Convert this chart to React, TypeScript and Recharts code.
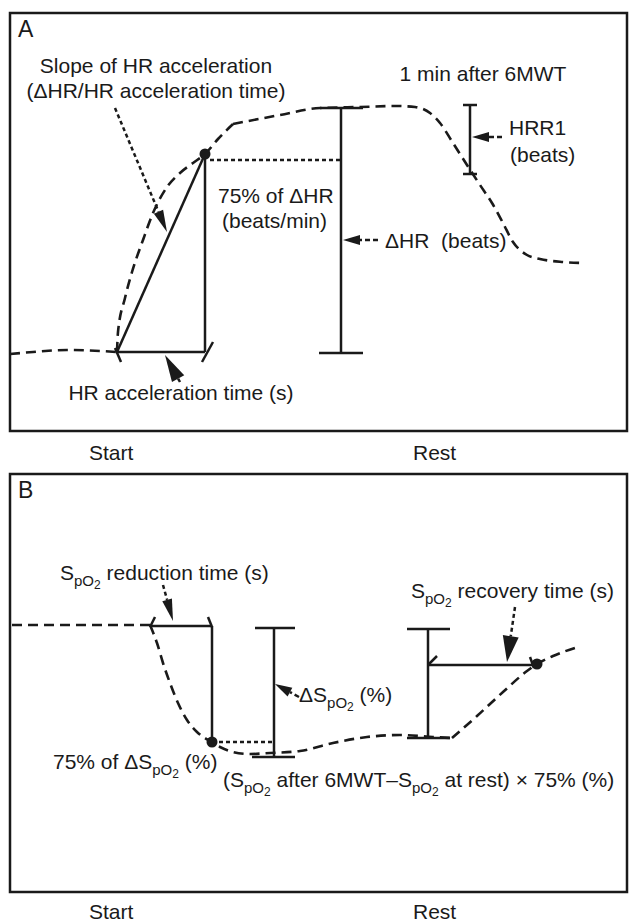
import {
  ComposedChart,
  Line,
  ReferenceArea,
  ReferenceDot,
  ReferenceLine,
  Scatter,
  XAxis,
  YAxis,
} from 'recharts';

// Schematic of the HR and SpO2 response to the 6MWT.
// Units are diagram units (x = time, y = level drawn downward).

type Pt = { x: number; y: number };
type Seg = [Pt, Pt];
type Part = string | [string, number];
type TextItem = { x: number; y: number; parts: Part[]; anchor?: 'start' | 'middle'; big?: boolean };
type ArrowItem = { from: Pt; to: Pt; kind: 'dot' | 'big' | 'small' | 'head' };

const INK = '#1a1a1a';
const FONT = '"Liberation Sans", Arial, Helvetica, sans-serif';
const W = 629;
const H = 924;
const SPLIT = 470;

// ---- Panel A: heart rate ----
const hrBaseline: Pt[] = [
  { x: 10, y: 354 }, { x: 33, y: 352 }, { x: 67, y: 350 }, { x: 100, y: 351 }, { x: 117, y: 352 },
];
const hrRise: Pt[] = [
  { x: 117, y: 352 }, { x: 118, y: 332 }, { x: 125, y: 298 }, { x: 132, y: 272 }, { x: 143, y: 240 },
  { x: 153, y: 213 }, { x: 167, y: 187 }, { x: 180, y: 173 }, { x: 193, y: 163 }, { x: 205, y: 154 },
  { x: 218, y: 139 }, { x: 233, y: 124 },
];
const hrPeakRecovery: Pt[] = [
  { x: 233, y: 124 }, { x: 280, y: 115 }, { x: 320, y: 108 }, { x: 360, y: 107 }, { x: 397, y: 106 },
  { x: 415, y: 107 }, { x: 430, y: 113 }, { x: 440, y: 123 }, { x: 453, y: 143 }, { x: 467, y: 165 },
  { x: 480, y: 185 }, { x: 492, y: 203 }, { x: 503, y: 223 }, { x: 513, y: 242 }, { x: 527, y: 255 },
  { x: 540, y: 259 }, { x: 563, y: 262 }, { x: 582, y: 263 },
];
const hrSolid: Seg[] = [
  [{ x: 117, y: 352 }, { x: 205, y: 154 }],
  [{ x: 205, y: 154 }, { x: 205, y: 352 }],
  [{ x: 117, y: 352 }, { x: 205, y: 352 }],
  [{ x: 115, y: 348 }, { x: 121, y: 362 }],
  [{ x: 213, y: 342 }, { x: 202, y: 362 }],
  [{ x: 341, y: 108 }, { x: 341, y: 353 }],
  [{ x: 320, y: 108 }, { x: 363, y: 108 }],
  [{ x: 319, y: 353 }, { x: 363, y: 353 }],
  [{ x: 470, y: 105 }, { x: 470, y: 174 }],
  [{ x: 463, y: 105 }, { x: 477, y: 105 }],
  [{ x: 463, y: 174 }, { x: 477, y: 174 }],
];
const hrDotted: Seg[] = [[{ x: 210, y: 160 }, { x: 340, y: 160 }]];
const hrDots: Pt[] = [{ x: 205, y: 154 }];
const hrArrows: ArrowItem[] = [
  { from: { x: 115, y: 108 }, to: { x: 167, y: 232 }, kind: 'dot' },
  { from: { x: 502, y: 137 }, to: { x: 472, y: 137 }, kind: 'small' },
  { from: { x: 378, y: 240 }, to: { x: 343, y: 240 }, kind: 'small' },
  { from: { x: 180, y: 382 }, to: { x: 165, y: 355 }, kind: 'head' },
];
const hrTexts: TextItem[] = [
  { x: 18, y: 37, parts: ['A'], big: true },
  { x: 156, y: 73, parts: ['Slope of HR acceleration'], anchor: 'middle' },
  { x: 156, y: 98, parts: ['(ΔHR/HR acceleration time)'], anchor: 'middle' },
  { x: 483, y: 81, parts: ['1 min after 6MWT'], anchor: 'middle' },
  { x: 509, y: 135, parts: ['HRR1'] },
  { x: 510, y: 162, parts: ['(beats)'] },
  { x: 218, y: 203, parts: ['75% of ΔHR'] },
  { x: 222, y: 228, parts: ['(beats/min)'] },
  { x: 385, y: 248, parts: ['ΔHR  (beats)'] },
  { x: 181, y: 400, parts: ['HR acceleration time (s)'], anchor: 'middle' },
  { x: 89, y: 460, parts: ['Start'] },
  { x: 413, y: 460, parts: ['Rest'] },
];

// ---- Panel B: SpO2 ----
const SPO2: Part[] = ['S', ['pO', 1], ['2', 2]];
const spo2Baseline: Pt[] = [{ x: 12, y: 625 }, { x: 80, y: 625 }, { x: 150, y: 625 }];
const spo2Drop: Pt[] = [
  { x: 150, y: 625 }, { x: 157, y: 643 }, { x: 163, y: 663 }, { x: 170, y: 683 }, { x: 178, y: 703 },
  { x: 187, y: 720 }, { x: 197, y: 732 }, { x: 208, y: 740 }, { x: 220, y: 747 }, { x: 233, y: 752 },
  { x: 250, y: 754 }, { x: 270, y: 753 }, { x: 300, y: 751 }, { x: 333, y: 743 }, { x: 367, y: 737 },
  { x: 400, y: 735 }, { x: 433, y: 737 }, { x: 452, y: 738 },
];
const spo2Recovery: Pt[] = [
  { x: 452, y: 738 }, { x: 477, y: 716 }, { x: 503, y: 692 }, { x: 527, y: 671 }, { x: 537, y: 664 },
  { x: 553, y: 656 }, { x: 578, y: 647 },
];
const spo2Solid: Seg[] = [
  [{ x: 150, y: 626 }, { x: 212, y: 626 }],
  [{ x: 212, y: 626 }, { x: 212, y: 742 }],
  [{ x: 155, y: 617 }, { x: 150, y: 627 }],
  [{ x: 208, y: 617 }, { x: 212, y: 627 }],
  [{ x: 274, y: 628 }, { x: 274, y: 757 }],
  [{ x: 255, y: 628 }, { x: 295, y: 628 }],
  [{ x: 252, y: 757 }, { x: 295, y: 757 }],
  [{ x: 428, y: 629 }, { x: 428, y: 738 }],
  [{ x: 407, y: 629 }, { x: 450, y: 629 }],
  [{ x: 407, y: 738 }, { x: 450, y: 738 }],
  [{ x: 428, y: 665 }, { x: 537, y: 665 }],
  [{ x: 428, y: 665 }, { x: 437, y: 656 }],
  [{ x: 530, y: 657 }, { x: 534, y: 668 }],
];
const spo2Dotted: Seg[] = [[{ x: 212, y: 742 }, { x: 273, y: 742 }]];
const spo2Dots: Pt[] = [{ x: 212, y: 742 }, { x: 537, y: 664 }];
const spo2Arrows: ArrowItem[] = [
  { from: { x: 163, y: 585 }, to: { x: 173, y: 621 }, kind: 'dot' },
  { from: { x: 299, y: 697 }, to: { x: 275, y: 684 }, kind: 'small' },
  { from: { x: 515, y: 607 }, to: { x: 507, y: 662 }, kind: 'big' },
];
const spo2Texts: TextItem[] = [
  { x: 18, y: 498, parts: ['B'], big: true },
  { x: 60, y: 580, parts: [...SPO2, ' reduction time (s)'] },
  { x: 411, y: 598, parts: [...SPO2, ' recovery time (s)'] },
  { x: 299, y: 702, parts: ['Δ', ...SPO2, ' (%)'] },
  { x: 53, y: 769, parts: ['75% of Δ', ...SPO2, ' (%)'] },
  { x: 223, y: 787, parts: ['(', ...SPO2, ' after 6MWT–', ...SPO2, ' at rest) × 75% (%)'] },
  { x: 89, y: 919, parts: ['Start'] },
  { x: 413, y: 919, parts: ['Rest'] },
];

const HEADS = {
  dot: { len: 22, half: 5, dash: '4 3' },
  small: { len: 17, half: 5, dash: '5 3' },
  big: { len: 26, half: 8, dash: '4 3' },
  head: { len: 27, half: 7, dash: undefined },
} as const;

const LEVEL_DY = [0, 6, 9];
const LEVEL_SIZE = [21, 15, 12];

function renderParts(parts: Part[]) {
  let cur = 0;
  return parts.map((p, i) => {
    const [s, lvl] = typeof p === 'string' ? [p, 0] : p;
    const dy = LEVEL_DY[lvl] - cur;
    cur = LEVEL_DY[lvl];
    return (
      <tspan key={i} dy={dy} fontSize={LEVEL_SIZE[lvl]}>
        {s}
      </tspan>
    );
  });
}

function TextShape(props: any) {
  const { cx, cy, payload } = props;
  return (
    <text
      x={cx}
      y={cy}
      textAnchor={payload.anchor ?? 'start'}
      fontFamily={FONT}
      fontSize={payload.big ? 23 : 21}
      fill={INK}
      style={{ whiteSpace: 'pre' }}
    >
      {payload.big ? payload.parts[0] : renderParts(payload.parts)}
    </text>
  );
}

function arrowShape(kind: ArrowItem['kind']) {
  const { len, half, dash } = HEADS[kind];
  return (props: any) => {
    const { x1, y1, x2, y2 } = props;
    const dx = x2 - x1;
    const dy = y2 - y1;
    const l = Math.hypot(dx, dy) || 1;
    const ux = dx / l;
    const uy = dy / l;
    const bx = x2 - ux * len;
    const by = y2 - uy * len;
    const px = -uy * half;
    const py = ux * half;
    return (
      <g>
        {l > len && (
          <line x1={x1} y1={y1} x2={bx} y2={by} stroke={INK} strokeWidth={2.5} strokeDasharray={dash} />
        )}
        <polygon points={`${x2},${y2} ${bx + px},${by + py} ${bx - px},${by - py}`} fill={INK} />
      </g>
    );
  };
}

type PanelProps = {
  top: number;
  bottom: number;
  box: [number, number];
  curves: Pt[][];
  solid: Seg[];
  dotted: Seg[];
  dots: Pt[];
  arrows: ArrowItem[];
  texts: TextItem[];
};

function Panel({ top, bottom, box, curves, solid, dotted, dots, arrows, texts }: PanelProps) {
  return (
    <ComposedChart
      width={W}
      height={bottom - top}
      margin={{ top: 0, right: 0, bottom: 0, left: 0 }}
      style={{ overflow: 'visible' }}
    >
      <XAxis type="number" dataKey="x" domain={[0, W]} hide />
      <YAxis type="number" dataKey="y" domain={[top, bottom]} reversed hide />
      <ReferenceArea
        x1={10}
        x2={627}
        y1={box[0]}
        y2={box[1]}
        fill="none"
        stroke={INK}
        strokeWidth={2.5}
        ifOverflow="visible"
      />
      {curves.map((c, i) => (
        <Line
          key={`c${i}`}
          data={c}
          dataKey="y"
          type="monotone"
          stroke={INK}
          strokeWidth={2.6}
          strokeDasharray="10 6"
          dot={false}
          activeDot={false}
          isAnimationActive={false}
        />
      ))}
      {solid.map((s, i) => (
        <ReferenceLine key={`s${i}`} segment={s} stroke={INK} strokeWidth={2.5} ifOverflow="visible" />
      ))}
      {dotted.map((s, i) => (
        <ReferenceLine
          key={`d${i}`}
          segment={s}
          stroke={INK}
          strokeWidth={2.5}
          strokeDasharray="4 3"
          ifOverflow="visible"
        />
      ))}
      {arrows.map((a, i) => (
        <ReferenceLine key={`a${i}`} segment={[a.from, a.to]} shape={arrowShape(a.kind)} ifOverflow="visible" />
      ))}
      {dots.map((d, i) => (
        <ReferenceDot key={`p${i}`} x={d.x} y={d.y} r={5.5} fill={INK} stroke="none" ifOverflow="visible" />
      ))}
      <Scatter data={texts} shape={TextShape} isAnimationActive={false} />
    </ComposedChart>
  );
}

export default function App() {
  return (
    <div style={{ position: 'absolute', left: 0, top: 0, width: W, height: H, background: '#fff' }}>
      <Panel
        top={0}
        bottom={SPLIT}
        box={[13, 431]}
        curves={[hrBaseline, hrRise, hrPeakRecovery]}
        solid={hrSolid}
        dotted={hrDotted}
        dots={hrDots}
        arrows={hrArrows}
        texts={hrTexts}
      />
      <Panel
        top={SPLIT}
        bottom={H}
        box={[474, 892]}
        curves={[spo2Baseline, spo2Drop, spo2Recovery]}
        solid={spo2Solid}
        dotted={spo2Dotted}
        dots={spo2Dots}
        arrows={spo2Arrows}
        texts={spo2Texts}
      />
    </div>
  );
}
